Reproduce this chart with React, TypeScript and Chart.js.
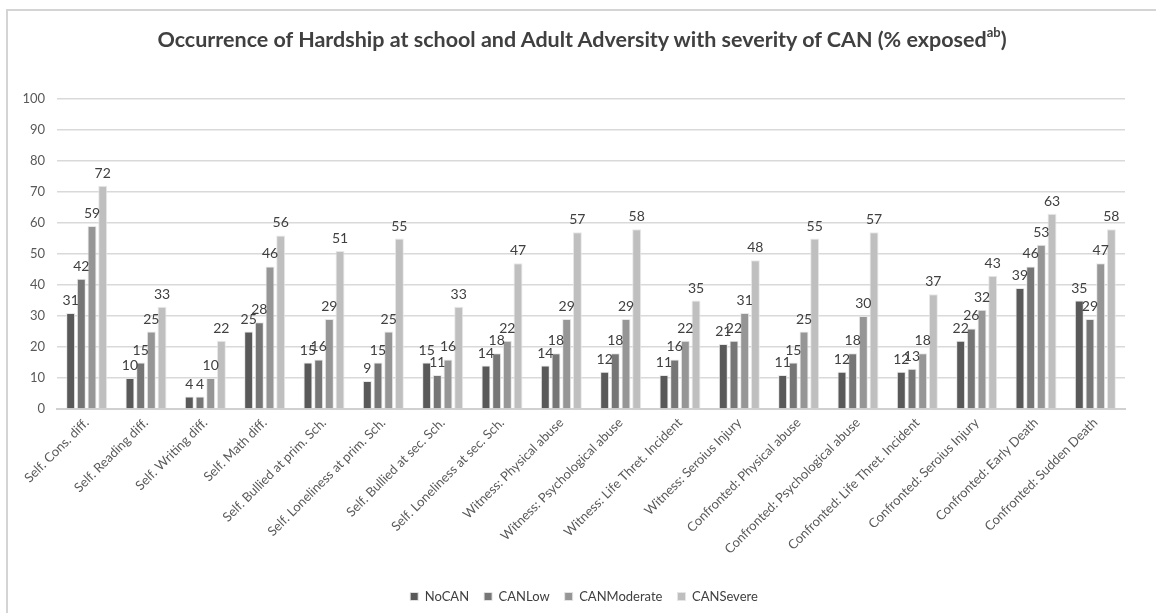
import React, { useEffect, useRef } from "react";
import { Chart, registerables } from "chart.js";

Chart.register(...registerables);

const categories = [
  "Self. Cons. diff.",
  "Self. Reading diff.",
  "Self. Writing diff.",
  "Self. Math diff.",
  "Self. Bullied at prim. Sch.",
  "Self. Loneliness at prim. Sch.",
  "Self. Bullied at sec. Sch.",
  "Self. Loneliness at sec. Sch.",
  "Witness: Physical abuse",
  "Witness: Psychological abuse",
  "Witness: Life Thret. Incident",
  "Witness: Seroius Injury",
  "Confronted: Physical abuse",
  "Confronted: Psychological abuse",
  "Confronted: Life Thret. Incident",
  "Confronted: Seroius Injury",
  "Confronted: Early Death",
  "Confronted: Sudden Death",
];

const noCAN = [31, 10, 4, 25, 15, 9, 15, 14, 14, 12, 11, 21, 11, 12, 12, 22, 39, 35];
const canLow = [42, 15, 4, 28, 16, 15, 11, 18, 18, 18, 16, 22, 15, 18, 13, 26, 46, 29];
const canModerate = [59, 25, 10, 46, 29, 25, 16, 22, 29, 29, 22, 31, 25, 30, 18, 32, 53, 47];
const canSevere = [72, 33, 22, 56, 51, 55, 33, 47, 57, 58, 35, 48, 55, 57, 37, 43, 63, 58];

const seriesNames = ["NoCAN", "CANLow", "CANModerate", "CANSevere"];
const seriesColors = ["#595959", "#767676", "#969696", "#bfbfbf"];

const yTicks = [0, 10, 20, 30, 40, 50, 60, 70, 80, 90, 100];

const FONT = "Lato, 'Open Sans', 'DejaVu Sans', sans-serif";

const valueLabels = {
  id: "valueLabels",
  afterDatasetsDraw(chart: any) {
    const ctx = chart.ctx;
    ctx.save();
    ctx.font = `14px ${FONT}`;
    ctx.fillStyle = "#404040";
    ctx.textAlign = "center";
    ctx.textBaseline = "alphabetic";
    chart.data.datasets.forEach((ds: any, i: number) => {
      const meta = chart.getDatasetMeta(i);
      meta.data.forEach((bar: any, j: number) => {
        ctx.fillText(String(ds.data[j]), bar.x, bar.y - 8);
      });
    });
    ctx.restore();
  },
};

export default function App() {
  const canvasRef = useRef<HTMLCanvasElement | null>(null);

  useEffect(() => {
    if (!canvasRef.current) return;
    const seriesData = [noCAN, canLow, canModerate, canSevere];
    const chart = new Chart(canvasRef.current, {
      type: "bar",
      data: {
        labels: categories,
        datasets: seriesData.map((d, i) => ({
          label: seriesNames[i],
          data: d,
          backgroundColor: seriesColors[i],
          borderColor: "rgba(230,230,230,0.9)",
          borderWidth: 1,
          categoryPercentage: 0.72,
          barPercentage: 0.84,
        })),
      },
      options: {
        animation: false,
        responsive: false,
        maintainAspectRatio: false,
        layout: { padding: { top: 99, right: 0, left: 12, bottom: 0 } },
        plugins: {
          title: { display: false },
          tooltip: { enabled: false },
          legend: {
            display: true,
            position: "bottom",
            labels: {
              boxWidth: 8,
              boxHeight: 8,
              padding: 15,
              color: "#404040",
              font: { family: FONT, size: 13 },
            },
          },
        },
        scales: {
          x: {
            grid: { display: false, drawTicks: false },
            border: { display: true, color: "#d0d0d0", width: 2 },
            ticks: {
              maxRotation: 45,
              minRotation: 45,
              autoSkip: false,
              padding: 6,
              color: "#595959",
              font: { family: FONT, size: 13 },
            },
            afterFit: (s: any) => {
              s.height = 166;
            },
          },
          y: {
            min: 0,
            max: 100,
            afterBuildTicks: (s: any) => {
              s.ticks = yTicks.map((v) => ({ value: v }));
            },
            grid: { color: "#d9d9d9", lineWidth: 1.5, drawTicks: false },
            border: { display: false },
            ticks: {
              padding: 12,
              color: "#595959",
              font: { family: FONT, size: 13 },
            },
            afterFit: (s: any) => {
              s.width = 45;
            },
          },
          yRight: {
            position: "right",
            min: 0,
            max: 100,
            display: true,
            grid: { display: false, drawTicks: false },
            border: { display: false },
            ticks: { display: false },
            afterFit: (s: any) => {
              s.width = 31;
            },
          },
        },
      },
      plugins: [valueLabels],
    });
    return () => chart.destroy();
  }, []);

  return (
    <div
      style={{
        position: "fixed",
        left: 0,
        top: 0,
        width: 1156,
        height: 613,
        background: "#fff",
        overflow: "hidden",
      }}
    >
      <div
        style={{
          position: "absolute",
          left: 6,
          top: 9,
          width: 1150,
          height: 604,
          borderTop: "2px solid #d4d4d4",
          borderLeft: "2px solid #d4d4d4",
          boxSizing: "border-box",
        }}
      />
      <canvas
        ref={canvasRef}
        width={1156}
        height={613}
        style={{ position: "absolute", left: 0, top: 0, width: 1156, height: 613 }}
      />
      <div
        style={{
          position: "absolute",
          left: 8,
          top: 25,
          width: 1148,
          textAlign: "center",
          fontFamily: FONT,
          fontWeight: 700,
          fontSize: 21.5,
          color: "#404040",
          lineHeight: "28px",
        }}
      >
        Occurrence of Hardship at school and Adult Adversity with severity of CAN (% exposed
        <sup style={{ fontSize: 13, verticalAlign: "top", lineHeight: "14px" }}>ab</sup>)
      </div>
    </div>
  );
}
